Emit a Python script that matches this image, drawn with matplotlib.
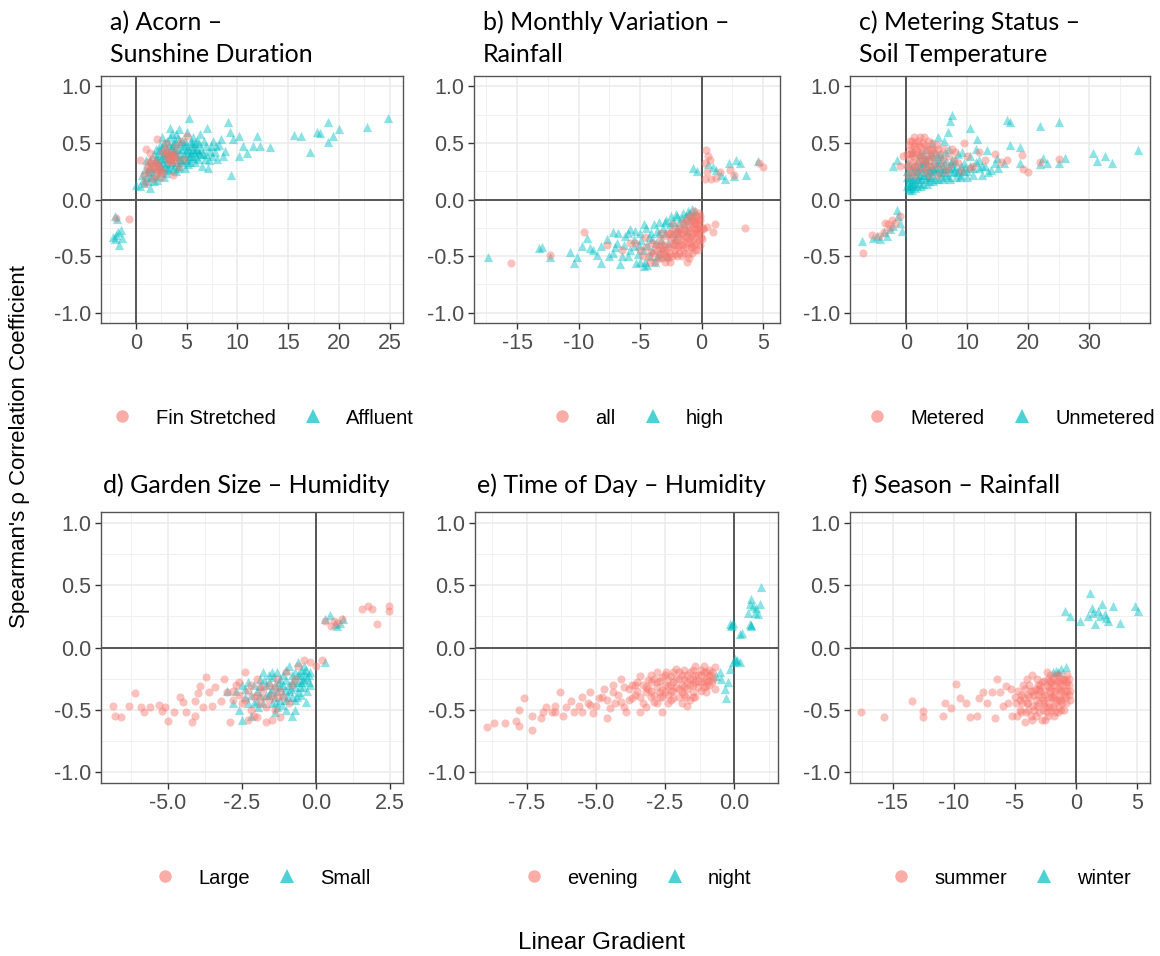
import numpy as np
import matplotlib.pyplot as plt
from matplotlib.lines import Line2D

plt.rcParams['font.family'] = ['Liberation Sans', 'DejaVu Sans']
plt.rcParams['axes.unicode_minus'] = False

W, H = 1160, 956
RED = '#F8766D'
TEAL = '#00BFC4'

# a) Acorn - Sunshine Duration  (gradient, rho)
a_fin = np.array([
    (-1.9, -0.16), (-0.7, -0.17),
    (0.4, 0.35), (1.1, 0.29), (1.2, 0.24), (1.7, 0.18), (1.4, 0.41), (2.1, 0.53), (3.0, 0.38),
    (3.4, 0.35), (3.5, 0.41), (4.0, 0.47), (4.3, 0.29), (2.7, 0.24), (2.4, 0.26), (1.4, 0.28),
    (3.0, 0.50), (5.0, 0.56), (3.7, 0.22), (2.1, 0.31), (3.2, 0.34), (0.9, 0.15), (1.8, 0.30),
    (1.9, 0.27), (2.0, 0.33), (2.2, 0.25), (3.6, 0.37), (3.8, 0.34), (3.3, 0.39), (3.9, 0.40),
    (2.5, 0.20), (1.6, 0.36), (0.8, 0.22), (2.9, 0.45), (4.5, 0.52), (1.0, 0.45), (4.7, 0.36),
    (2.6, 0.42), (1.5, 0.32), (2.3, 0.29), (3.5, 0.33), (3.7, 0.39), (2.0, 0.22), (3.1, 0.42),
    (4.1, 0.36), (1.2, 0.33)])
a_aff = np.array([
    (-2.0, -0.15), (-1.7, -0.29), (-1.4, -0.34), (-2.0, -0.35), (-1.6, -0.40), (-1.9, -0.31),
    (-1.5, -0.27), (-2.2, -0.33), (-1.8, -0.17),
    (0.0, 0.13), (0.4, 0.12), (0.8, 0.15), (1.4, 0.10), (1.1, 0.20), (0.6, 0.22), (1.5, 0.30),
    (1.0, 0.35), (1.8, 0.16), (2.2, 0.21), (2.0, 0.28), (2.5, 0.36), (2.3, 0.44), (2.8, 0.50),
    (2.6, 0.27), (3.0, 0.32), (3.2, 0.42), (3.4, 0.55), (3.4, 0.63), (3.6, 0.48), (3.8, 0.30),
    (3.9, 0.38), (4.0, 0.58), (4.2, 0.45), (4.3, 0.62), (4.5, 0.35), (4.6, 0.52), (4.8, 0.28),
    (4.9, 0.42), (5.0, 0.60), (5.2, 0.72), (5.3, 0.38), (5.5, 0.47), (5.6, 0.55), (5.8, 0.33),
    (6.0, 0.44), (6.2, 0.50), (6.3, 0.58), (6.5, 0.30), (6.6, 0.40), (6.9, 0.47), (7.0, 0.63),
    (7.2, 0.35), (7.5, 0.38), (7.6, 0.52), (7.9, 0.47), (8.4, 0.53), (8.8, 0.43), (9.1, 0.68),
    (9.3, 0.60), (9.4, 0.22), (9.6, 0.53), (10.2, 0.56), (10.2, 0.38), (10.6, 0.47), (10.9, 0.41),
    (11.5, 0.47), (11.9, 0.56), (12.2, 0.47), (13.2, 0.46), (15.6, 0.57), (16.3, 0.56),
    (17.1, 0.42), (17.8, 0.60), (18.1, 0.59), (18.9, 0.68), (18.9, 0.51), (19.4, 0.56),
    (20.0, 0.62), (22.8, 0.64), (24.8, 0.72),
    (1.6, 0.25), (2.1, 0.38), (2.7, 0.33), (2.9, 0.41), (3.3, 0.26), (3.5, 0.36), (3.7, 0.44),
    (4.1, 0.33), (4.4, 0.40), (4.7, 0.47), (5.1, 0.31), (5.4, 0.52), (5.9, 0.38), (6.4, 0.45),
    (7.3, 0.43), (8.0, 0.36), (1.3, 0.28), (2.4, 0.48), (3.1, 0.52), (4.0, 0.25), (5.7, 0.42),
    (6.8, 0.36), (2.0, 0.45), (2.6, 0.55), (3.0, 0.23), (3.6, 0.58), (4.2, 0.54), (4.8, 0.36),
    (5.2, 0.44), (5.8, 0.50), (6.1, 0.36), (6.7, 0.52), (7.1, 0.28), (7.8, 0.42), (8.2, 0.48),
    (8.6, 0.38), (1.9, 0.33), (2.3, 0.30), (3.8, 0.50), (4.5, 0.45), (5.0, 0.35), (0.9, 0.27),
    (1.2, 0.16), (1.7, 0.22), (2.1, 0.17), (2.4, 0.24), (2.8, 0.20), (3.1, 0.28), (3.4, 0.31),
    (3.7, 0.27), (4.1, 0.38), (4.3, 0.30), (4.6, 0.33), (4.9, 0.48), (5.3, 0.33), (5.6, 0.37),
    (5.9, 0.45), (6.3, 0.40), (6.9, 0.40), (7.4, 0.47), (2.2, 0.34), (2.5, 0.41), (2.8, 0.37),
    (3.2, 0.37), (3.5, 0.45), (3.9, 0.52), (4.4, 0.50), (4.7, 0.40), (5.0, 0.45), (5.4, 0.41),
    (1.8, 0.40), (2.9, 0.29), (3.6, 0.33), (4.2, 0.28), (1.4, 0.35), (2.6, 0.46), (3.3, 0.48),
    (3.8, 0.42), (5.5, 0.50), (6.0, 0.52), (0.7, 0.17), (1.2, 0.24), (2.0, 0.36), (2.5, 0.30),
    (3.0, 0.45), (3.3, 0.40), (3.9, 0.45), (4.4, 0.36), (4.8, 0.52), (5.2, 0.38), (5.6, 0.45),
    (6.2, 0.42), (1.5, 0.20), (2.7, 0.39)])

# b) Monthly Variation - Rainfall
b_all = np.array([
    (-15.5, -0.56), (-12.3, -0.49), (-9.6, -0.29), (-7.7, -0.40), (-6.5, -0.45), (-5.8, -0.38),
    (-0.2, -0.12), (-0.5, -0.20), (-0.3, -0.30), (-0.8, -0.25), (-1.0, -0.35), (-1.2, -0.18),
    (-1.5, -0.30), (-1.8, -0.40), (-2.0, -0.28), (-2.2, -0.45), (-2.5, -0.35), (-2.8, -0.50),
    (-3.0, -0.40), (-3.3, -0.30), (-3.6, -0.45), (-4.0, -0.38), (-4.3, -0.50), (-4.6, -0.33),
    (-5.0, -0.45), (-5.4, -0.38), (-2.6, -0.55), (-1.6, -0.50), (-0.6, -0.40), (-0.1, -0.28),
    (-0.4, -0.15), (-0.9, -0.22), (-1.3, -0.42), (-2.3, -0.22), (-3.8, -0.55), (-1.1, -0.48),
    (-0.2, -0.36), (-0.7, -0.30), (-1.9, -0.33), (-2.9, -0.32), (-3.2, -0.52), (-0.3, -0.45),
    (0.1, -0.25), (-0.6, -0.10), (-1.4, -0.22), (-2.1, -0.37), (-2.7, -0.42), (-3.4, -0.36),
    (-4.1, -0.46), (-1.7, -0.27), (-1.0, -0.28), (-0.5, -0.33), (-0.9, -0.42), (-1.5, -0.37),
    (-2.4, -0.28), (-3.1, -0.47), (-2.0, -0.50), (-1.2, -0.55), (-0.4, -0.22), (-0.15, -0.18),
    (-0.8, -0.15), (-3.7, -0.40), (-4.5, -0.42),
    (-0.1, -0.15), (-0.3, -0.18), (-0.5, -0.26), (-0.2, -0.22), (-0.6, -0.17), (-0.7, -0.36),
    (-0.9, -0.32), (-1.1, -0.25), (-1.3, -0.33), (-1.4, -0.47), (-1.6, -0.40), (-1.8, -0.25),
    (-1.8, -0.47), (-2.1, -0.30), (-2.2, -0.40), (-2.4, -0.50), (-2.5, -0.42), (-2.7, -0.30),
    (-2.9, -0.46), (-3.0, -0.55), (-3.2, -0.40), (-3.5, -0.42), (-3.5, -0.52), (-3.9, -0.47),
    (-0.4, -0.38), (-0.8, -0.47), (-1.2, -0.38), (-1.7, -0.35), (-2.3, -0.33), (-1.0, -0.15),
    (-0.05, -0.33), (-0.35, -0.26), (-1.5, -0.20), (-2.6, -0.48), (-4.2, -0.55), (-4.8, -0.50),
    (-0.25, -0.25), (-0.45, -0.30), (-0.65, -0.22), (-0.75, -0.42), (-0.95, -0.38), (-1.15, -0.32),
    (-1.35, -0.27), (-1.55, -0.44), (-1.75, -0.30), (-1.95, -0.42), (-2.15, -0.48), (-2.35, -0.38),
    (-2.55, -0.30), (-2.75, -0.52), (-3.05, -0.45), (-3.35, -0.48), (-0.55, -0.45), (-1.05, -0.52),
    (-0.15, -0.40), (-0.85, -0.18),
    (0.4, -0.24), (0.9, -0.29), (1.1, -0.22), (3.5, -0.25), (0.1, -0.26), (0.0, -0.35),
    (0.35, 0.44), (0.3, 0.32), (0.7, 0.35), (0.4, 0.24), (0.8, 0.18), (1.2, 0.19), (2.3, 0.26),
    (2.6, 0.22), (5.0, 0.29), (4.7, 0.32), (0.3, 0.18), (1.5, 0.24), (0.5, 0.38)])
b_high = np.array([
    (-17.4, -0.51), (-13.2, -0.43), (-12.3, -0.51), (-10.7, -0.46), (-10.1, -0.51), (-9.7, -0.41),
    (-9.3, -0.34), (-8.5, -0.49), (-8.2, -0.41), (-7.7, -0.35), (-7.2, -0.29), (-6.6, -0.57),
    (-5.8, -0.26), (-5.5, -0.41), (-5.3, -0.56), (-4.7, -0.59), (-8.2, -0.56), (-7.2, -0.47),
    (-9.1, -0.43), (-10.4, -0.56), (-13.0, -0.42), (-8.8, -0.45), (-6.9, -0.38), (-6.2, -0.32),
    (-6.0, -0.50),
    (-5.0, -0.30), (-4.5, -0.25), (-4.0, -0.35), (-3.5, -0.20), (-3.0, -0.30), (-2.5, -0.15),
    (-2.0, -0.25), (-1.5, -0.12), (-1.0, -0.18), (-0.5, -0.10), (-4.8, -0.45), (-4.2, -0.50),
    (-3.8, -0.55), (-3.2, -0.42), (-2.8, -0.50), (-5.5, -0.35), (-6.0, -0.30), (-3.6, -0.28),
    (-2.2, -0.35), (-1.8, -0.20), (-1.2, -0.28), (-2.6, -0.22), (-3.3, -0.36), (-4.4, -0.40),
    (-5.2, -0.48), (-6.3, -0.40), (-1.0, -0.12), (-0.7, -0.15), (-4.6, -0.55), (-3.9, -0.22),
    (-2.9, -0.18), (-2.4, -0.30), (-1.6, -0.16), (-3.4, -0.48), (-4.1, -0.30), (-5.1, -0.40),
    (-5.8, -0.45), (-5.4, -0.28), (-4.9, -0.36), (-4.7, -0.22), (-4.3, -0.33), (-4.0, -0.45),
    (-3.7, -0.38), (-3.5, -0.30), (-3.1, -0.25), (-2.7, -0.38), (-2.3, -0.20), (-2.1, -0.13),
    (-1.9, -0.30), (-1.4, -0.22), (-1.1, -0.10), (-0.8, -0.08), (-5.0, -0.55), (-4.4, -0.58),
    (-3.6, -0.50), (-6.5, -0.50), (-7.0, -0.42), (-7.5, -0.50), (-6.8, -0.30), (-3.0, -0.20),
    (-2.0, -0.15), (-1.3, -0.15),
    (-0.7, 0.28), (-0.4, 0.25), (2.2, 0.32), (2.8, 0.35), (3.1, 0.32), (1.6, 0.22), (1.9, 0.18),
    (2.6, 0.21), (3.6, 0.22), (4.6, 0.34), (1.2, 0.26), (0.5, 0.31), (0.9, 0.29)])

# c) Metering Status - Soil Temperature
c_met = np.array([
    (-7.0, -0.47), (-5.6, -0.31), (-3.4, -0.21), (-2.9, -0.22), (-2.3, -0.18), (-1.0, -0.15),
    (-4.5, -0.32), (-3.7, -0.29), (-1.8, -0.21), (-2.6, -0.25),
    (0.5, 0.30), (0.8, 0.45), (1.2, 0.38), (1.5, 0.50), (2.0, 0.42), (2.5, 0.35), (3.0, 0.55),
    (3.5, 0.45), (4.0, 0.38), (4.5, 0.30), (5.0, 0.48), (5.5, 0.40), (6.0, 0.35), (7.0, 0.30),
    (8.0, 0.42), (9.0, 0.25), (10.0, 0.38), (11.0, 0.30), (12.0, 0.42), (0.3, 0.22), (1.8, 0.28),
    (2.8, 0.25), (3.8, 0.22), (1.0, 0.52), (2.2, 0.55), (4.2, 0.50), (6.5, 0.25), (7.5, 0.45),
    (9.5, 0.50), (13.0, 0.35), (14.5, 0.40), (15.5, 0.33), (16.5, 0.35), (19.0, 0.39),
    (19.2, 0.27), (20.0, 0.24), (25.0, 0.36), (22.0, 0.33), (-1.0, 0.30), (0.2, 0.40),
    (1.4, 0.22), (3.2, 0.32), (5.2, 0.22), (0.6, 0.36), (1.0, 0.42), (1.6, 0.40), (2.4, 0.46),
    (2.0, 0.33), (3.4, 0.38), (4.6, 0.42), (2.7, 0.50), (1.3, 0.47), (3.9, 0.30), (0.9, 0.25),
    (6.2, 0.45), (8.5, 0.32), (10.5, 0.28), (-0.5, 0.38),
    (0.4, 0.48), (0.7, 0.40), (1.1, 0.33), (1.3, 0.55), (1.7, 0.45), (1.9, 0.52), (2.3, 0.38),
    (2.6, 0.42), (2.9, 0.35), (3.1, 0.48), (3.6, 0.52), (3.7, 0.35), (4.3, 0.44), (4.8, 0.36),
    (5.3, 0.45), (5.8, 0.30), (0.2, 0.30), (0.6, 0.52), (1.5, 0.30), (2.1, 0.48), (3.3, 0.28),
    (4.0, 0.45), (6.8, 0.38), (7.8, 0.35)])
c_unm = np.array([
    (-7.3, -0.37), (-4.8, -0.32), (-3.7, -0.29), (-2.6, -0.26), (-1.5, -0.09), (-1.3, -0.15),
    (-2.1, -0.23), (-1.0, -0.21), (-4.3, -0.35), (-3.2, -0.32), (-0.7, -0.28), (-5.5, -0.34),
    (7.5, 0.75), (7.2, 0.69), (16.5, 0.70), (17.0, 0.68), (22.0, 0.65), (25.0, 0.68), (38.1, 0.44),
    (30.7, 0.41), (31.3, 0.34), (32.6, 0.38), (33.7, 0.32), (22.5, 0.37), (23.1, 0.32),
    (22.0, 0.31), (25.0, 0.32), (26.0, 0.37), (18.7, 0.46), (17.0, 0.48), (18.7, 0.32),
    (16.0, 0.32), (14.9, 0.37), (10.5, 0.63), (11.6, 0.53), (13.2, 0.44), (-2.1, 0.30),
    (-1.5, 0.35),
    (0.5, 0.10), (1.0, 0.12), (1.5, 0.15), (0.8, 0.20), (1.2, 0.30), (2.0, 0.25), (2.5, 0.18),
    (3.0, 0.22), (3.5, 0.30), (4.0, 0.20), (4.5, 0.35), (5.0, 0.25), (5.5, 0.40), (6.0, 0.30),
    (6.5, 0.22), (7.0, 0.45), (7.5, 0.35), (8.0, 0.28), (8.5, 0.40), (9.0, 0.22), (9.5, 0.32),
    (10.0, 0.25), (10.5, 0.38), (11.0, 0.28), (12.0, 0.35), (12.5, 0.22), (13.0, 0.30),
    (14.0, 0.26), (2.2, 0.40), (3.2, 0.45), (4.2, 0.50), (5.2, 0.55), (6.2, 0.52), (6.8, 0.60),
    (1.8, 0.12), (2.8, 0.14), (3.8, 0.16), (0.3, 0.15), (0.6, 0.28), (4.8, 0.18), (5.8, 0.20),
    (7.2, 0.18), (8.2, 0.20), (9.2, 0.42), (11.5, 0.45), (3.3, 0.35), (4.4, 0.28), (2.6, 0.33),
    (6.4, 0.42), (7.8, 0.25), (1.0, 0.42), (0.4, 0.08), (0.9, 0.16), (2.0, 0.18), (3.0, 0.28),
    (4.0, 0.26), (5.0, 0.32), (6.0, 0.24), (7.0, 0.28), (8.0, 0.34), (9.0, 0.30), (10.0, 0.20),
    (11.0, 0.22), (12.0, 0.28), (13.5, 0.24), (14.5, 0.32), (15.0, 0.28), (0.2, 0.25),
    (1.5, 0.22), (2.4, 0.28), (3.6, 0.20), (5.6, 0.28), (6.6, 0.34),
    (0.2, 0.12), (0.5, 0.18), (0.7, 0.12), (1.1, 0.25), (1.3, 0.18), (1.7, 0.30), (2.1, 0.15),
    (2.3, 0.22), (2.9, 0.32), (3.3, 0.18), (3.7, 0.25), (4.2, 0.22), (4.6, 0.26), (5.2, 0.18),
    (5.4, 0.33), (6.2, 0.27), (6.8, 0.20), (7.4, 0.24), (8.6, 0.26), (9.4, 0.25), (10.4, 0.30),
    (11.4, 0.33), (1.9, 0.35), (2.8, 0.40), (3.8, 0.38), (4.8, 0.42), (5.9, 0.36), (7.6, 0.30),
    (0.1, 0.20), (0.3, 0.32), (0.9, 0.08), (1.4, 0.10), (2.5, 0.12), (3.5, 0.14), (4.4, 0.16),
    (6.0, 0.18), (8.8, 0.20), (12.5, 0.30), (0.6, 0.14), (1.2, 0.14), (1.9, 0.20), (2.7, 0.22),
    (3.4, 0.24), (4.1, 0.30), (4.9, 0.28), (5.7, 0.24), (6.5, 0.28), (7.3, 0.32), (8.3, 0.24),
    (9.7, 0.28), (0.4, 0.22), (1.6, 0.26), (2.2, 0.30), (3.1, 0.36), (4.3, 0.40), (5.3, 0.38)])

# d) Garden Size - Humidity
d_large = np.array([
    (-6.85, -0.47), (-6.8, -0.55), (-6.6, -0.56), (-6.3, -0.47), (-6.1, -0.37), (-5.9, -0.48),
    (-5.8, -0.52), (-5.6, -0.48), (-5.3, -0.46), (-5.2, -0.51), (-5.0, -0.59), (-5.1, -0.48),
    (-4.8, -0.52), (-4.6, -0.40), (-4.5, -0.44), (-4.4, -0.52), (-4.2, -0.60), (-4.1, -0.55),
    (-4.0, -0.37), (-4.1, -0.43), (-3.9, -0.31), (-3.8, -0.48), (-3.7, -0.24), (-3.6, -0.36),
    (-3.5, -0.47), (-3.4, -0.32), (-3.2, -0.43), (-3.1, -0.25), (-2.9, -0.60), (-2.8, -0.42),
    (-3.0, -0.36),
    (-2.7, -0.30), (-2.5, -0.45), (-2.3, -0.35), (-2.1, -0.55), (-2.0, -0.25), (-1.8, -0.40),
    (-1.6, -0.30), (-1.5, -0.58), (-1.4, -0.50), (-1.2, -0.35), (-1.0, -0.20), (-0.8, -0.30),
    (-0.6, -0.15), (-0.4, -0.10), (-2.4, -0.20), (-1.9, -0.45), (-1.7, -0.60), (-1.3, -0.25),
    (-2.2, -0.50), (-0.9, -0.45), (-0.2, -0.12), (0.0, -0.15), (0.2, -0.10), (-2.6, -0.38),
    (-1.1, -0.40), (-1.9, -0.32), (-2.1, -0.40), (-1.5, -0.38),
    (-2.8, -0.35), (-2.6, -0.28), (-2.4, -0.42), (-2.2, -0.30), (-2.0, -0.38), (-1.8, -0.33),
    (-1.7, -0.48), (-1.6, -0.42), (-1.3, -0.40), (-1.2, -0.56), (-2.3, -0.58), (-2.0, -0.56),
    (-1.4, -0.32), (-0.7, -0.25),
    (0.3, 0.21), (0.5, 0.17), (0.7, 0.20), (0.87, 0.23), (1.54, 0.31), (1.77, 0.33), (1.9, 0.31),
    (2.05, 0.19), (2.48, 0.33), (2.48, 0.29), (0.6, 0.21)])
d_small = np.array([
    (-3.0, -0.35), (-2.8, -0.45), (-2.6, -0.50), (-2.5, -0.30), (-2.4, -0.40), (-2.2, -0.55),
    (-2.0, -0.35), (-1.9, -0.25), (-1.8, -0.45), (-1.6, -0.38), (-1.5, -0.20), (-1.4, -0.30),
    (-1.3, -0.48), (-1.2, -0.25), (-1.1, -0.38), (-1.0, -0.18), (-0.9, -0.30), (-0.8, -0.22),
    (-0.7, -0.42), (-0.6, -0.28), (-0.5, -0.18), (-0.4, -0.25), (-0.3, -0.35), (-0.2, -0.20),
    (0.3, -0.12), (-1.0, -0.50), (-0.8, -0.55), (-2.5, -0.58), (-1.7, -0.30), (-0.6, -0.12),
    (-1.2, -0.42), (-2.1, -0.45), (-0.35, -0.44), (-1.4, -0.52), (-0.9, -0.15), (-2.3, -0.28),
    (-1.5, -0.45), (-0.5, -0.38), (-1.1, -0.30), (-0.7, -0.20), (-1.9, -0.38), (-2.7, -0.35),
    (-0.25, -0.28), (-1.6, -0.22), (-0.45, -0.32),
    (-2.4, -0.33), (-2.2, -0.38), (-2.0, -0.43), (-1.9, -0.31), (-1.8, -0.20), (-1.7, -0.38),
    (-1.5, -0.33), (-1.4, -0.40), (-1.3, -0.35), (-1.2, -0.32), (-1.1, -0.22), (-1.0, -0.26),
    (-1.0, -0.42), (-0.9, -0.35), (-0.8, -0.28), (-0.8, -0.40), (-0.7, -0.32), (-0.6, -0.22),
    (-0.5, -0.28), (-0.4, -0.20), (-0.3, -0.24), (-0.6, -0.36), (-1.3, -0.20), (-1.6, -0.28),
    (-2.1, -0.30), (-0.7, -0.50), (-0.4, -0.15), (-0.2, -0.30),
    (-2.3, -0.45), (-1.95, -0.48), (-1.75, -0.26), (-1.55, -0.36), (-1.35, -0.44), (-1.25, -0.28),
    (-1.05, -0.34), (-0.95, -0.40), (-0.85, -0.33), (-0.75, -0.26), (-0.65, -0.40), (-0.55, -0.22),
    (-0.45, -0.26), (-0.35, -0.18), (-0.55, -0.32), (-1.15, -0.46), (-1.45, -0.24), (-0.25, -0.22),
    (0.3, 0.23), (0.47, 0.26), (0.64, 0.19), (0.8, 0.20), (0.92, 0.23), (0.7, 0.17)])

# e) Time of Day - Humidity
e_evening = np.array([
    (-8.95, -0.64), (-8.7, -0.61), (-8.3, -0.61), (-7.9, -0.59), (-7.8, -0.63), (-7.6, -0.41),
    (-7.3, -0.66), (-7.3, -0.55), (-7.0, -0.57), (-6.9, -0.52), (-6.8, -0.48), (-6.6, -0.52),
    (-6.5, -0.47), (-6.3, -0.36), (-6.2, -0.55), (-6.1, -0.48), (-5.9, -0.43), (-5.8, -0.52),
    (-5.6, -0.47), (-5.5, -0.52), (-5.3, -0.45), (-5.2, -0.36), (-5.1, -0.53), (-5.0, -0.47),
    (-4.9, -0.41), (-4.7, -0.33), (-4.6, -0.57), (-4.5, -0.49), (-4.4, -0.36), (-4.1, -0.25),
    (-4.1, -0.44), (-3.9, -0.52), (-3.8, -0.33), (-3.7, -0.41), (-3.4, -0.23), (-3.4, -0.52),
    (-3.2, -0.36), (-3.0, -0.28), (-2.9, -0.44), (-2.8, -0.20), (-2.7, -0.36), (-2.6, -0.52),
    (-2.4, -0.31), (-2.3, -0.23), (-2.2, -0.41), (-2.1, -0.17), (-2.0, -0.33), (-1.8, -0.25),
    (-1.7, -0.47), (-1.6, -0.20), (-1.5, -0.36), (-1.4, -0.15), (-1.2, -0.28), (-1.1, -0.20),
    (-1.0, -0.36), (-0.9, -0.23), (-0.7, -0.16), (-0.7, -0.33),
    (-3.5, -0.35), (-3.0, -0.40), (-2.5, -0.30), (-2.0, -0.25), (-1.8, -0.38), (-1.5, -0.25),
    (-1.3, -0.32), (-2.8, -0.32), (-2.2, -0.28), (-3.8, -0.42), (-4.3, -0.45), (-2.6, -0.24),
    (-1.9, -0.30), (-1.1, -0.27), (-1.6, -0.42), (-3.2, -0.48), (-2.4, -0.45), (-4.8, -0.40),
    (-5.5, -0.40), (-6.5, -0.52), (-7.8, -0.50), (-3.6, -0.30), (-3.1, -0.33), (-2.3, -0.35),
    (-1.7, -0.28), (-1.2, -0.22), (-0.9, -0.30), (-2.7, -0.27), (-4.0, -0.32), (-1.4, -0.40),
    (-3.3, -0.30), (-3.0, -0.35), (-2.9, -0.25), (-2.7, -0.40), (-2.5, -0.36), (-2.5, -0.22),
    (-2.3, -0.30), (-2.1, -0.25), (-2.0, -0.40), (-1.9, -0.22), (-1.8, -0.32), (-1.7, -0.22),
    (-1.6, -0.30), (-1.5, -0.18), (-1.4, -0.28), (-1.3, -0.22), (-1.2, -0.35), (-1.1, -0.15),
    (-1.0, -0.25), (-0.9, -0.18), (-0.8, -0.28), (-0.8, -0.20), (-1.9, -0.45), (-2.2, -0.20),
    (-2.8, -0.45), (-3.4, -0.40), (-3.7, -0.30), (-4.2, -0.38), (-4.6, -0.42), (-5.2, -0.46),
    (-1.5, -0.30), (-2.4, -0.38), (-3.0, -0.22), (-1.0, -0.31), (-0.75, -0.25),
    (-3.6, -0.38), (-3.3, -0.45), (-3.1, -0.26), (-2.9, -0.38), (-2.8, -0.28), (-2.6, -0.34),
    (-2.4, -0.25), (-2.3, -0.42), (-2.1, -0.32), (-2.0, -0.20), (-1.9, -0.36), (-1.8, -0.18),
    (-1.7, -0.33), (-1.6, -0.25), (-1.5, -0.40), (-1.4, -0.22), (-1.3, -0.27), (-1.2, -0.18),
    (-1.1, -0.32), (-1.0, -0.20), (-0.95, -0.27), (-0.85, -0.22), (-2.2, -0.35), (-2.6, -0.40),
    (-3.2, -0.32), (-4.4, -0.30), (-4.0, -0.48), (-3.5, -0.28), (-1.75, -0.40), (-2.45, -0.20)])
e_night = np.array([
    (-0.5, -0.20), (-0.46, -0.25), (-0.34, -0.33), (-0.28, -0.41), (-0.64, -0.23), (-0.16, -0.17),
    (-0.04, -0.12), (0.08, -0.11), (0.2, -0.12), (-0.22, -0.28), (0.02, -0.09), (0.12, -0.10),
    (-0.16, 0.19), (-0.1, 0.17), (-0.04, 0.20), (0.2, 0.11), (0.27, 0.12), (0.57, 0.19),
    (0.63, 0.17), (0.5, 0.28), (0.63, 0.39), (0.69, 0.33), (0.8, 0.32), (0.87, 0.27), (0.93, 0.35),
    (0.99, 0.49), (0.75, 0.28), (0.57, 0.35), (-0.08, 0.18), (0.6, 0.18)])

# f) Season - Rainfall
f_summer = np.array([
    (-17.6, -0.52), (-15.7, -0.56), (-13.4, -0.43), (-12.5, -0.51), (-12.5, -0.56), (-10.7, -0.45),
    (-10.9, -0.55), (-10.2, -0.49), (-9.8, -0.29), (-9.5, -0.41), (-9.0, -0.45), (-8.7, -0.56),
    (-8.1, -0.55), (-7.9, -0.41), (-7.6, -0.36), (-7.3, -0.45), (-6.9, -0.36), (-6.6, -0.57),
    (-6.5, -0.25), (-6.2, -0.36), (-6.0, -0.47), (-5.7, -0.31),
    (-5.0, -0.40), (-4.6, -0.50), (-4.3, -0.30), (-4.0, -0.45), (-3.7, -0.55), (-3.5, -0.35),
    (-3.2, -0.25), (-3.0, -0.45), (-2.8, -0.58), (-2.6, -0.35), (-2.4, -0.20), (-2.2, -0.40),
    (-2.0, -0.50), (-1.8, -0.30), (-1.6, -0.22), (-1.4, -0.42), (-1.2, -0.35), (-1.0, -0.26),
    (-0.8, -0.40), (-0.6, -0.30), (-4.8, -0.55), (-3.9, -0.38), (-3.4, -0.50), (-2.9, -0.30),
    (-2.5, -0.48), (-1.9, -0.40), (-1.5, -0.52), (-1.1, -0.45), (-0.7, -0.22), (-4.2, -0.60),
    (-3.6, -0.22), (-2.1, -0.27), (-5.3, -0.33), (-5.6, -0.45), (-3.1, -0.38), (-2.3, -0.55),
    (-1.3, -0.28), (-0.9, -0.35), (-4.5, -0.38), (-3.8, -0.30), (-2.7, -0.42), (-1.7, -0.35),
    (-1.0, -0.50), (-0.5, -0.42), (-2.0, -0.33), (-3.3, -0.42), (-4.0, -0.25), (-2.6, -0.27),
    (-4.7, -0.35), (-4.4, -0.45), (-4.1, -0.52), (-3.8, -0.40), (-3.5, -0.47), (-3.3, -0.33),
    (-3.0, -0.52), (-2.8, -0.40), (-2.6, -0.45), (-2.4, -0.30), (-2.2, -0.48), (-2.0, -0.40),
    (-1.9, -0.25), (-1.7, -0.45), (-1.5, -0.33), (-1.3, -0.40), (-1.1, -0.30), (-0.9, -0.25),
    (-0.7, -0.35), (-0.6, -0.25), (-3.6, -0.58), (-2.5, -0.58), (-1.8, -0.55), (-3.9, -0.50),
    (-4.3, -0.40), (-3.1, -0.30), (-2.3, -0.25), (-1.6, -0.28), (-1.2, -0.50), (-0.8, -0.45),
    (-4.9, -0.45), (-5.2, -0.55), (-2.9, -0.35), (-2.1, -0.35), (-1.4, -0.22), (-0.5, -0.35),
    (-4.6, -0.42), (-4.2, -0.33), (-3.9, -0.45), (-3.7, -0.35), (-3.4, -0.38), (-3.2, -0.47),
    (-3.0, -0.33), (-2.8, -0.28), (-2.7, -0.50), (-2.5, -0.38), (-2.3, -0.45), (-2.2, -0.32),
    (-2.0, -0.28), (-1.9, -0.48), (-1.8, -0.38), (-1.6, -0.42), (-1.5, -0.27), (-1.4, -0.48),
    (-1.2, -0.42), (-1.1, -0.25), (-1.0, -0.38), (-0.8, -0.30), (-0.6, -0.38), (-3.3, -0.55),
    (-2.4, -0.52), (-1.7, -0.52), (-4.5, -0.52), (-2.1, -0.22), (-0.7, -0.28), (-1.3, -0.33)])
f_winter = np.array([
    (-1.6, -0.19), (-1.2, -0.17), (-0.77, -0.16), (-1.86, -0.20), (-1.45, -0.20),
    (-0.9, 0.29), (-0.5, 0.25), (0.33, 0.21), (1.15, 0.44), (1.28, 0.32), (2.1, 0.35), (3.06, 0.33),
    (4.84, 0.33), (5.1, 0.29), (3.6, 0.20), (1.97, 0.25), (2.5, 0.24), (2.65, 0.21), (1.56, 0.19),
    (1.0, 0.25), (1.4, 0.28), (2.4, 0.27), (1.8, 0.29)])

y_ticks = [-1.0, -0.5, 0.0, 0.5, 1.0]
y_minor = [-0.75, -0.25, 0.25, 0.75]

panels = [
    dict(title=['a) Acorn –', 'Sunshine Duration'], pts=(a_fin, a_aff), keys=('Fin Stretched', 'Affluent'),
         box=(101, 76, 403, 323), xlim=(-3.42, 26.3), xt=[0, 5, 10, 15, 20, 25],
         xl=['0', '5', '10', '15', '20', '25'], xm=[-2.5, 2.5, 7.5, 12.5, 17.5, 22.5]),
    dict(title=['b) Monthly Variation –', 'Rainfall'], pts=(b_all, b_high), keys=('all', 'high'),
         box=(474, 76, 780, 323), xlim=(-18.5, 6.37), xt=[-15, -10, -5, 0, 5],
         xl=['-15', '-10', '-5', '0', '5'], xm=[-17.5, -12.5, -7.5, -2.5, 2.5]),
    dict(title=['c) Metering Status –', 'Soil Temperature'], pts=(c_met, c_unm), keys=('Metered', 'Unmetered'),
         box=(850, 76, 1150, 323), xlim=(-9.2, 40.0), xt=[0, 10, 20, 30],
         xl=['0', '10', '20', '30'], xm=[-5, 5, 15, 25, 35]),
    dict(title=['d) Garden Size – Humidity'], pts=(d_large, d_small), keys=('Large', 'Small'),
         box=(101, 512, 403, 783), xlim=(-7.26, 2.94), xt=[-5.0, -2.5, 0.0, 2.5],
         xl=['-5.0', '-2.5', '0.0', '2.5'], xm=[-6.25, -3.75, -1.25, 1.25]),
    dict(title=['e) Time of Day – Humidity'], pts=(e_evening, e_night), keys=('evening', 'night'),
         box=(475, 512, 778, 783), xlim=(-9.38, 1.59), xt=[-7.5, -5.0, -2.5, 0.0],
         xl=['-7.5', '-5.0', '-2.5', '0.0'], xm=[-8.75, -6.25, -3.75, -1.25, 1.25]),
    dict(title=['f) Season – Rainfall'], pts=(f_summer, f_winter), keys=('summer', 'winter'),
         box=(850, 512, 1150, 783), xlim=(-18.5, 6.07), xt=[-15, -10, -5, 0, 5],
         xl=['-15', '-10', '-5', '0', '5'], xm=[-17.5, -12.5, -7.5, -2.5, 2.5]),
]

fig = plt.figure(figsize=(W / 100, H / 100), dpi=100)

for p in panels:
    x0, y0, x1, y1 = p['box']
    ax = fig.add_axes([x0 / W, 1 - y1 / H, (x1 - x0) / W, (y1 - y0) / H])
    ax.set_xlim(*p['xlim'])
    ax.set_ylim(-1.09, 1.09)
    ax.set_xticks(p['xt'])
    ax.set_xticklabels(p['xl'])
    ax.set_xticks(p['xm'], minor=True)
    ax.set_yticks(y_ticks)
    ax.set_yticklabels(['-1.0', '-0.5', '0.0', '0.5', '1.0'])
    ax.set_yticks(y_minor, minor=True)
    ax.set_axisbelow(True)
    ax.grid(which='major', color='#EBEBEB', lw=1.1)
    ax.grid(which='minor', color='#F0F0F0', lw=0.7)
    ax.tick_params(which='minor', length=0)
    ax.tick_params(which='major', length=4, width=1, color='#333333',
                   labelsize=15.5, labelcolor='#4D4D4D', pad=3)
    for s in ax.spines.values():
        s.set_color('#555555')
        s.set_linewidth(1.0)
    ax.axhline(0, color='#555555', lw=1.4, zorder=1.5)
    ax.axvline(0, color='#555555', lw=1.4, zorder=1.5)

    red, teal = p['pts']
    ax.scatter(teal[:, 0], teal[:, 1], s=44, marker='^', color=TEAL, alpha=0.45, linewidths=0, zorder=2)
    ax.scatter(red[:, 0], red[:, 1], s=34, marker='o', color=RED, alpha=0.45, linewidths=0, zorder=2)

    # panel titles
    if len(p['title']) == 2:
        fig.text((x0 + 9) / W, 1 - 30 / H, p['title'][0], fontsize=18, family='Lato', va='baseline')
        fig.text((x0 + 9) / W, 1 - 62 / H, p['title'][1], fontsize=18, family='Lato', va='baseline')
    else:
        fig.text((x0 + 2) / W, 1 - 493 / H, p['title'][0], fontsize=18, family='Lato', va='baseline')

    handles = [Line2D([], [], marker='o', ls='', color=RED, alpha=0.6, markersize=9, markeredgewidth=0),
               Line2D([], [], marker='^', ls='', color=TEAL, alpha=0.7, markersize=10, markeredgewidth=0)]
    cx = (x0 + x1) / 2 + 11
    cy = y1 + 95
    fig.legend(handles, p['keys'], loc='center', bbox_to_anchor=(cx / W, 1 - cy / H),
               ncol=2, frameon=False, fontsize=14.5, handlelength=1.0,
               handletextpad=1.15, columnspacing=1.35)

fig.text(20 / W, 1 - 447 / H, "Spearman's ρ Correlation Coefficient", rotation=90,
         fontsize=16, ha='center', va='center')
fig.text(602 / W, 1 - 943 / H, 'Linear Gradient', fontsize=17.5, ha='center', va='center')

fig.savefig('out.png', dpi=100)
